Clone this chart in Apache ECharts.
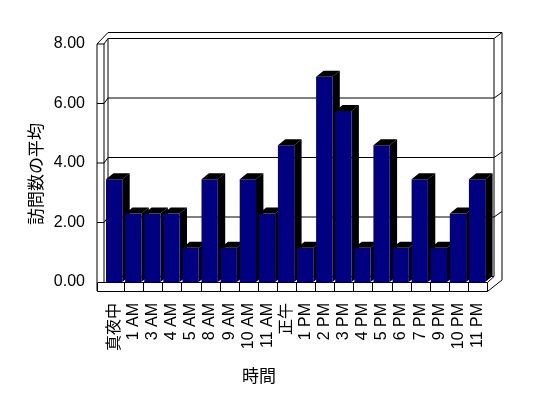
<!DOCTYPE html>
<html><head><meta charset="utf-8">
<script src="https://cdn.jsdelivr.net/npm/echarts@6/dist/echarts.min.js"></script>
<style>html,body{margin:0;padding:0;background:#fff}#c{width:548px;height:398px}</style>
</head><body><div id="c"></div>
<script>
const categories = ['真夜中','1 AM','3 AM','4 AM','5 AM','8 AM','9 AM','10 AM','11 AM','正午','1 PM','2 PM','3 PM','4 PM','5 PM','6 PM','7 PM','9 PM','10 PM','11 PM'];
const values = [3.45,2.3,2.3,2.3,1.15,3.45,1.15,3.45,2.3,4.6,1.15,6.9,5.75,1.15,4.6,1.15,3.45,1.15,2.3,3.45];
const yTicks = [0, 2, 4, 6, 8];
const yAxisTitle = '訪問数の平均';
const xAxisTitle = '時間';

const FONT = "'Liberation Sans', 'Noto Sans CJK JP', sans-serif";
const BAR_DX = 7.4, BAR_DY = -6;
const NAVY = '#000080';

const chart = echarts.init(document.getElementById('c'));

const option = {
  backgroundColor: '#fff',
  animation: false,
  grid: { left: 105, right: 61, top: 44, bottom: 116 },
  xAxis: {
    type: 'category', data: categories,
    axisLine: { show: false }, axisTick: { show: false },
    axisLabel: { rotate: 90, interval: 0, margin: 21, fontSize: 16, color: '#000', fontFamily: FONT }
  },
  yAxis: {
    type: 'value', min: yTicks[0], max: yTicks[yTicks.length - 1], interval: yTicks[1] - yTicks[0],
    axisLine: { show: false }, axisTick: { show: false }, splitLine: { show: false },
    axisLabel: { margin: 20, fontSize: 16, color: '#000', fontFamily: FONT, formatter: v => v.toFixed(2) }
  },
  series: [{
    type: 'custom', z: 5,
    data: values.map((v, i) => [i, v]),
    renderItem: (params, api) => {
      const idx = api.value(0), v = api.value(1);
      const top = api.coord([idx, v]);
      const base = api.coord([idx, 0]);
      const band = api.size([1, 0])[0];
      const x0 = top[0] - band * 0.447;
      const w = band * 0.853;
      const x1 = x0 + w;
      const dx = BAR_DX, dy = BAR_DY;
      return {
        type: 'group',
        children: [
          { type: 'polygon', shape: { points: [[x1, top[1]], [x1 + dx, top[1] + dy], [x1 + dx, base[1] + dy], [x1, base[1]]] }, style: { fill: '#000' } },
          { type: 'polygon', shape: { points: [[x0, top[1]], [x0 + dx, top[1] + dy], [x1 + dx, top[1] + dy], [x1, top[1]]] }, style: { fill: '#000' } },
          { type: 'rect', shape: { x: x0, y: top[1], width: w, height: base[1] - top[1] }, style: { fill: NAVY } }
        ]
      };
    }
  }]
};
chart.setOption(option);

// Frame (walls / floor) derived from the axis scales
const P = (c, v) => chart.convertToPixel({ gridIndex: 0 }, [c, v]);
const c0 = P(0, 0), c1 = P(1, 0);
const band = c1[0] - c0[0];
const n = categories.length;
const xL = c0[0] - band / 2;
const xR = P(n - 1, 0)[0] + band / 2;
const yF = v => P(0, v)[1];
const yMax = yTicks[yTicks.length - 1];
const yTop = yF(yMax), y0 = yF(0);
const fx0 = xL - 8, fx1 = xL - 1;   // left wall front edges
const bx0 = xL + 3, bx1 = xR + 7;   // back wall inner x
const bo = -5.5;                     // back wall y shift
const ox = xR + 15, oy = yTop + bo - 6; // outer back edges
const ln = (pts, z) => ({ type: 'polyline', z: z, shape: { points: pts }, style: { stroke: '#000', lineWidth: 1, fill: null } });
const els = [];
// back wall
els.push(ln([[fx0, yTop], [bx0, oy], [ox, oy], [ox, y0 + 9 - 11]], 1));
els.push(ln([[fx1, yTop], [bx0, yTop + bo], [bx1, yTop + bo], [ox, oy]], 1));
els.push(ln([[bx0, yTop + bo], [bx0, y0 + bo]], 1));
els.push(ln([[bx1, yTop + bo], [bx1, y0 + bo]], 1));
els.push(ln([[bx0, y0 + bo], [bx1, y0 + bo]], 1));
yTicks.slice(1, -1).forEach(t => {
  const f = yF(t);
  els.push(ln([[fx0, f], [fx1, f], [bx0, f + bo], [bx1, f + bo], [ox, f + bo - 5.5]], 1));
});
// left wall front
els.push(ln([[fx0, yTop], [fx0, y0 + 9]], 20));
els.push(ln([[fx1, yTop], [fx1, y0]], 20));
els.push(ln([[fx0, yTop], [fx1, yTop]], 20));
// floor strip
els.push({ type: 'rect', z: 20, shape: { x: fx0 + 0.5, y: y0 + 0.5, width: xR - fx0, height: 9 }, style: { fill: '#fff', stroke: '#000', lineWidth: 1 } });
for (let k = 1; k < n; k++) {
  const x = Math.round(c0[0] - band / 2 + k * band) + 0.5;
  els.push(ln([[x, y0], [x, y0 + 9]], 21));
}
els.push(ln([[xR + 0.5, y0 + 9.5], [ox, y0 + 9 - 11]], 20));
els.push(ln([[xR + 0.5, y0 + 0.5], [bx1, y0 + bo]], 20));
// titles
els.push({ type: 'text', z: 20, x: 35.5, y: 174, rotation: Math.PI / 2, style: { text: yAxisTitle, font: "17px 'Noto Sans CJK JP'", fill: '#000', align: 'center', verticalAlign: 'middle' } });
els.push({ type: 'text', z: 20, x: 259, y: 375.5, style: { text: xAxisTitle, font: "17px 'Noto Sans CJK JP'", fill: '#000', align: 'center', verticalAlign: 'middle' } });
chart.setOption({ graphic: { elements: els } });
</script>
</body></html>
